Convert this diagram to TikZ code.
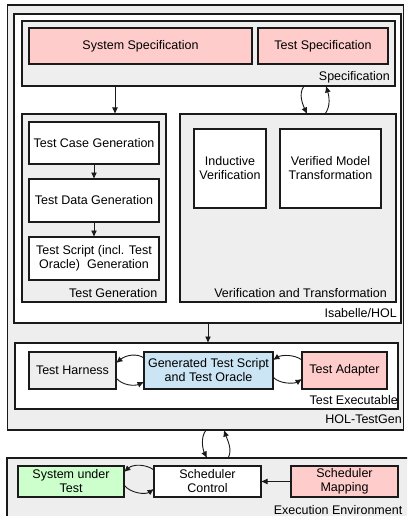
\documentclass[tikz,border=0pt]{standalone}
\usepackage{fontspec}
\setmainfont{Liberation Sans}
\usetikzlibrary{arrows.meta}

\definecolor{boxgray}{HTML}{EEEEEE}
\definecolor{specpink}{HTML}{FFCCCC}
\definecolor{sutgreen}{HTML}{CCFFCC}
\definecolor{scriptblue}{HTML}{CCE5F5}
\definecolor{edge}{HTML}{1A1A1A}

\begin{document}
\begin{tikzpicture}[x=1pt,y=-1pt,
  font=\fontsize{12.5}{14}\selectfont,
  unit/.style={draw=edge,line width=1.3pt,inner sep=2pt,outer sep=0pt,
    align=center,minimum width=#1},
  container/.style={unit=#1,fill=boxgray},
  caption/.style={anchor=base east,inner sep=0pt},
  arr/.style={draw=edge,line width=0.9pt,-{Latex[length=6.5pt,width=6pt]}}
]
\useasboundingbox (0,0) rectangle (407,516);
\clip (0,0) rectangle (407,516);

% HOL-TestGen frame
\node[container=396, minimum height=425] (outer) at (205.5,217.5) {};
\node[caption] at (402,423) {HOL-TestGen};

% Isabelle/HOL frame
\node[unit=387, fill=white, minimum height=309] (isa) at (207.5,168.5) {};
\node[caption] at (397,317) {Isabelle/HOL};

% Specification
\node[container=373, minimum height=65] (spec) at (208.5,53.5) {};
\node[caption] at (390,80.5) {Specification};
\node[unit=223, fill=specpink, minimum height=36] (syss) at (140.5,46) {System Specification};
\node[unit=130, fill=specpink, minimum height=36] (tsts) at (323,46) {Test Specification};

% Test Generation
\node[container=144, minimum height=188] (tg) at (94,208) {};
\node[caption] at (157.5,297) {Test Generation};
\node[unit=130, fill=white, minimum height=42] (tcg) at (94,143) {Test Case Generation};
\node[unit=130, fill=white, minimum height=43] (tdg) at (94,200.5) {Test Data Generation};
\node[unit=130, fill=white, minimum height=43] (tsg) at (94,258.5) {Test Script (incl. Test\\Oracle) \ Generation};

% Verification and Transformation
\node[container=216, minimum height=188] (vt) at (288,208) {};
\node[caption] at (387,297) {Verification and Transformation};
\node[unit=72, fill=white, minimum height=79] (iv) at (230,168.5) {Inductive\\Verification};
\node[unit=101, fill=white, minimum height=79] (vmt) at (330.5,168.5) {Verified Model\\Transformation};

% Test Executable
\node[unit=383, fill=white, minimum height=66] (te) at (206.5,376) {};
\node[caption] at (398,404) {Test Executable};
\node[unit=87, fill=boxgray, minimum height=37] (th) at (72.5,370.5) {Test Harness};
\node[unit=129, fill=scriptblue, minimum height=37] (gts) at (208.5,370.5) {Generated Test Script\\and Test Oracle};
\node[unit=85, fill=specpink, minimum height=37] (ta) at (344.5,370.5) {Test Adapter};

% Execution Environment
\node[container=405, minimum height=67] (ee) at (209.5,491.5) {};
\node[caption] at (402.5,514) {Execution Environment};
\node[unit=106, fill=sutgreen, minimum height=31] (sut) at (71,481.5) {System under\\Test};
\node[unit=107, fill=white, minimum height=31] (sc) at (207.5,481.5) {Scheduler\\Control};
\node[unit=107, fill=specpink, minimum height=31] (sm) at (344.5,481.5) {Scheduler\\Mapping};

% straight flows
\draw[arr] ([xshift=-93.5pt]spec.south) -- ([xshift=21pt]tg.north);
\draw[arr] (tcg.south) -- (tdg.north);
\draw[arr] (tdg.south) -- (tsg.north);
\draw[arr] ([xshift=0.5pt]isa.south) -- ([xshift=1.5pt]te.north);
\draw[arr] (sm.west) -- (sc.east);

% Specification <-> Verification and Transformation
\draw[arr] ([xshift=95.5pt]spec.south) .. controls +(-6,8) and +(-4,-9) .. ([xshift=19pt]vt.north);
\draw[arr] ([xshift=37pt]vt.north) .. controls +(6,-8) and +(3,10) .. ([xshift=117.5pt]spec.south);

% Test Harness <-> Generated Test Script
\draw[arr] ([yshift=12.5pt]gts.west) .. controls +(-7,-5) and +(10,-8) .. ([yshift=7.5pt]th.east);
\draw[arr] ([yshift=-7.5pt]th.east) .. controls +(7,8) and +(-9,4) .. ([yshift=-11.5pt]gts.west);

% Test Adapter <-> Generated Test Script
\draw[arr] ([yshift=10.5pt]ta.west) .. controls +(-8,-6) and +(8,-5) .. ([yshift=10.5pt]gts.east);
\draw[arr] ([yshift=-6.5pt]gts.east) .. controls +(6,7) and +(-8,5) .. ([yshift=-8.5pt]ta.west);

% HOL-TestGen <-> Execution Environment
\draw[arr] ([xshift=0.5pt]outer.south) .. controls +(-6,8) and +(-4,-8) .. ([xshift=-2.5pt]ee.north);
\draw[arr] ([xshift=18.5pt]ee.north) .. controls +(5,-8) and +(3,9) .. ([xshift=18.5pt]outer.south);

% System under Test <-> Scheduler Control
\draw[arr] ([yshift=11.5pt]sc.west) .. controls +(-8,-6) and +(9,-8) .. ([yshift=9.5pt]sut.east);
\draw[arr] ([yshift=-3.5pt]sut.east) .. controls +(6,8) and +(-9,6) .. ([yshift=-7.5pt]sc.west);
\end{tikzpicture}
\end{document}
